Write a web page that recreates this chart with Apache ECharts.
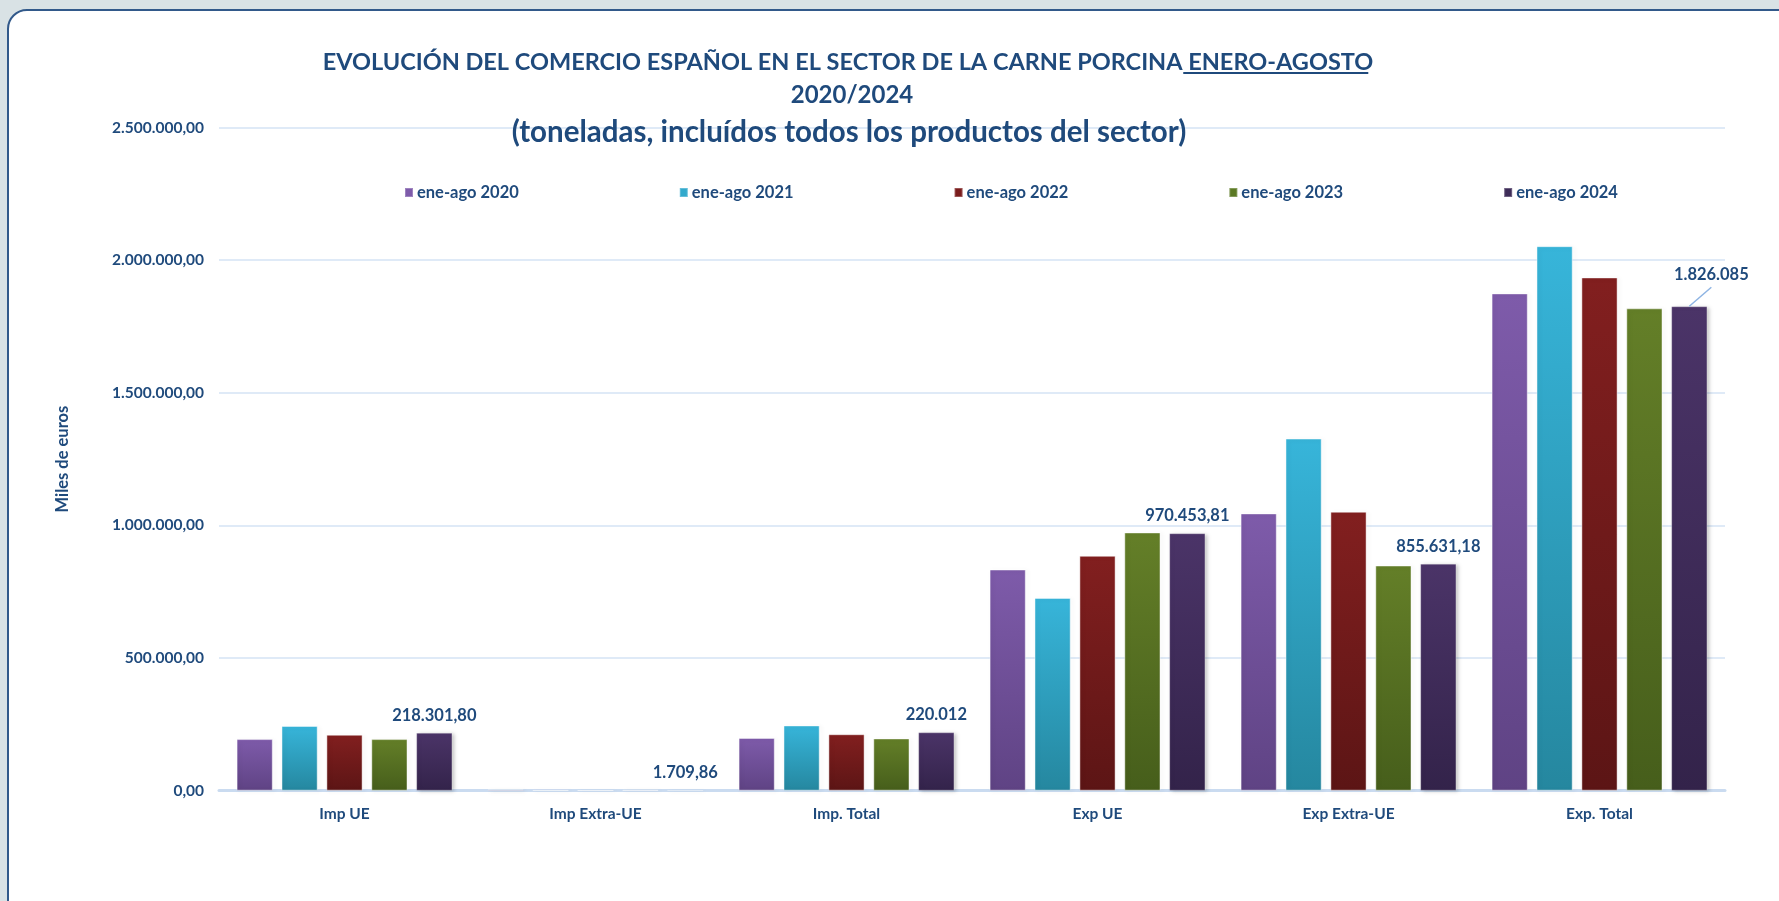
<!DOCTYPE html>
<html><head><meta charset="utf-8">
<script src="https://cdn.jsdelivr.net/npm/echarts@6/dist/echarts.min.js"></script>
<style>
html,body{margin:0;padding:0;width:1779px;height:901px;overflow:hidden;background:#D9E2E5;}
#panel{position:absolute;left:7px;top:9px;width:1820px;height:940px;background:#fff;border:2px solid #32598A;border-radius:20px;}
#chart{position:absolute;left:0;top:0;width:1779px;height:901px;}
</style></head>
<body><div id="panel"></div><div id="chart"></div>
<script>
const categories = ['Imp UE','Imp Extra-UE','Imp. Total','Exp UE','Exp Extra-UE','Exp. Total'];
const seriesNames = ['ene-ago 2020','ene-ago 2021','ene-ago 2022','ene-ago 2023','ene-ago 2024'];
const v2020 = [194500, 4500, 199000, 833800, 1045300, 1874700];
const v2021 = [244000, 2100, 246100, 726700, 1327500, 2052600];
const v2022 = [211000, 1900, 212900, 885400, 1051600, 1934800];
const v2023 = [194500, 2600, 197100, 973600, 848900, 1818300];
const v2024 = [218301.80, 1709.86, 220012, 970453.81, 855631.18, 1826085];
const labels2024 = ['218.301,80','1.709,86','220.012','970.453,81','855.631,18','1.826.085'];
const yTicks = [0, 500000, 1000000, 1500000, 2000000, 2500000];

const colorStops = [
  ['#7E5BAA','#5F4384'],
  ['#37B5DA','#25879F'],
  ['#821F1F','#5C1515'],
  ['#647F28','#465E1B'],
  ['#4B3468','#33234A']
];
const legendColors = ['#7E5BAA','#32A9CC','#7A1C1C','#5C7A25','#3E2C58'];
const allValues = [v2020, v2021, v2022, v2023, v2024];
const textColor = '#1F4A7C';
const ff = 'Lato';

function fmtES(v){
  const parts = v.toFixed(2).split('.');
  return parts[0].replace(/\B(?=(\d{3})+(?!\d))/g,'.') + ',' + parts[1];
}

const title1 = 'EVOLUCIÓN DEL COMERCIO ESPAÑOL EN EL SECTOR DE LA CARNE PORCINA ENERO-AGOSTO';
const t1Size = 23.5, t1Center = 843;
const cv = document.createElement('canvas').getContext('2d');
cv.font = 'bold ' + t1Size + 'px ' + ff;
const fullW = cv.measureText(title1).width;
const partW = cv.measureText('ENERO-AGOSTO').width;
const ulX2 = t1Center + fullW/2;
const ulX1 = ulX2 - partW;

const chart = echarts.init(document.getElementById('chart'), null, {renderer:'canvas'});

const series = seriesNames.map((name,i)=>{
  const s = {
    id: 's' + i,
    name: name,
    type: 'bar',
    data: allValues[i],
    barGap: '24%',
    barCategoryGap: '14%',
    itemStyle: {
      color: new echarts.graphic.LinearGradient(0,0,0,1,[{offset:0,color:colorStops[i][0]},{offset:1,color:colorStops[i][1]}]),
      borderColor: 'rgba(255,255,255,0.25)',
      borderWidth: 1,
      shadowBlur: 4,
      shadowColor: 'rgba(0,0,0,0.25)',
      shadowOffsetX: 2,
      shadowOffsetY: 1
    }
  };
  if(i===4){
    s.label = {
      show: true, position: 'top', distance: 9,
      formatter: p => labels2024[p.dataIndex],
      color: textColor, fontFamily: ff, fontWeight: 'bold', fontSize: 16.5
    };
  }
  return s;
});

const underline = { type: 'line', shape: { x1: ulX1, y1: 73, x2: ulX2, y2: 73 }, style: { stroke: textColor, lineWidth: 2 } };

const option = {
  animation: false,
  backgroundColor: 'transparent',
  title: [
    { text: title1, left: t1Center, top: 45, textAlign: 'center',
      textStyle: { color: textColor, fontFamily: ff, fontWeight: 'bold', fontSize: t1Size } },
    { text: '2020/2024', left: 847, top: 78, textAlign: 'center',
      textStyle: { color: textColor, fontFamily: ff, fontWeight: 'bold', fontSize: 24 } },
    { text: '(toneladas, incluídos todos los productos del sector)', left: 844, top: 112, textAlign: 'center',
      textStyle: { color: textColor, fontFamily: ff, fontWeight: 'bold', fontSize: 29.5 } }
  ],
  graphic: [ underline ],
  legend: {
    data: seriesNames.map((n,i)=>({name:n, itemStyle:{color:legendColors[i]}})),
    left: 404, top: 184, itemWidth: 8, itemHeight: 9, itemGap: 160, padding: 0,
    icon: 'rect',
    textStyle: { color: textColor, fontFamily: ff, fontWeight: 'bold', fontSize: 16.5, padding: [0,0,0,-1] }
  },
  grid: { left: 219, right: 54, top: 127.5, bottom: 110.3, containLabel: false },
  xAxis: {
    type: 'category', data: categories,
    axisTick: { show: false },
    axisLine: { lineStyle: { color: '#CADBF0', width: 3 } },
    axisLabel: { color: textColor, fontFamily: ff, fontWeight: 'bold', fontSize: 15.5, margin: 15 }
  },
  yAxis: {
    type: 'value', min: yTicks[0], max: yTicks[yTicks.length-1], interval: yTicks[1]-yTicks[0],
    name: 'Miles de euros', nameLocation: 'middle', nameGap: 148, nameRotate: 90,
    nameTextStyle: { color: textColor, fontFamily: ff, fontWeight: 'bold', fontSize: 16.5 },
    axisLine: { show: false }, axisTick: { show: false },
    axisLabel: { color: textColor, fontFamily: ff, fontWeight: 'bold', fontSize: 15.5, margin: 15, formatter: v => fmtES(v) },
    splitLine: { lineStyle: { color: '#D5E3F4', width: 1.5 } }
  },
  series: series
};
chart.setOption(option);

// the last 2024 label sits up and to the right of its bar, joined by a leader line
try {
  const lay = chart.getModel().getSeriesByIndex(4).getData().getItemLayout(5);
  const w = Math.abs(lay.width);
  const cx = lay.x + lay.width/2;
  const top = Math.min(lay.y, lay.y + lay.height);
  const newData = v2024.map((v,k)=> k===5
    ? { value: v, label: { position: [w/2 + 22, -32], align: 'center', verticalAlign: 'middle' } }
    : v);
  chart.setOption({
    series: [{ id: 's4', data: newData }],
    graphic: [
      underline,
      { type: 'line', shape: { x1: cx, y1: top, x2: cx + 22, y2: top - 19 }, style: { stroke: '#8EB4E3', lineWidth: 1.5 }, z: 10 }
    ]
  });
} catch(e) {}
</script></body></html>
